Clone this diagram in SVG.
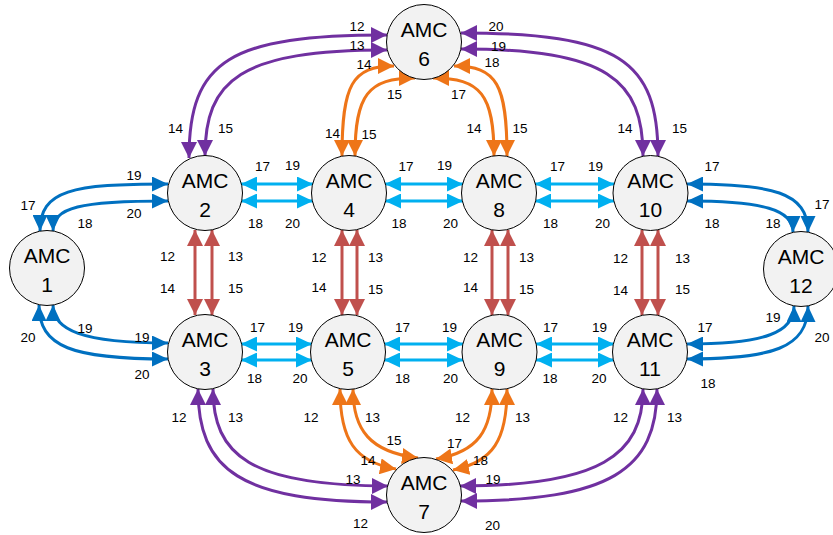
<svg xmlns="http://www.w3.org/2000/svg" width="833" height="535" viewBox="0 0 833 535">
<style>
.n circle{fill:#F2F2F2;stroke:#000;stroke-width:1}
.n text{font-family:"Liberation Sans",Arial,sans-serif;font-size:21px;text-anchor:middle;fill:#000}
.c path{fill:none;stroke-width:3}
.lb{stroke:#00B0F0;marker-start:url(#mLB);marker-end:url(#mLB)}
.db{stroke:#0070C0;marker-start:url(#mDB);marker-end:url(#mDB)}
.rd{stroke:#C0504D;marker-start:url(#mRD);marker-end:url(#mRD)}
.pu{stroke:#7030A0;marker-start:url(#mPU);marker-end:url(#mPU)}
.or{stroke:#EE7518;marker-start:url(#mOR);marker-end:url(#mOR)}
.lbl text{font-family:"Liberation Sans",Arial,sans-serif;font-size:13.5px;text-anchor:middle;fill:#000}
</style>
<defs>
<marker id="mLB" viewBox="0 0 16 15" refX="16" refY="7.5" markerWidth="16" markerHeight="15" markerUnits="userSpaceOnUse" orient="auto-start-reverse"><path d="M0,0 L16,7.5 L0,15 z" fill="#00B0F0"/></marker>
<marker id="mDB" viewBox="0 0 16 15" refX="16" refY="7.5" markerWidth="16" markerHeight="15" markerUnits="userSpaceOnUse" orient="auto-start-reverse"><path d="M0,0 L16,7.5 L0,15 z" fill="#0070C0"/></marker>
<marker id="mRD" viewBox="0 0 16 16" refX="16" refY="8" markerWidth="16" markerHeight="16" markerUnits="userSpaceOnUse" orient="auto-start-reverse"><path d="M0,0 L16,8 L0,16 z" fill="#C0504D"/></marker>
<marker id="mPU" viewBox="0 0 16 16" refX="16" refY="8" markerWidth="16" markerHeight="16" markerUnits="userSpaceOnUse" orient="auto-start-reverse"><path d="M0,0 L16,8 L0,16 z" fill="#7030A0"/></marker>
<marker id="mOR" viewBox="0 0 16 16" refX="16" refY="8" markerWidth="16" markerHeight="16" markerUnits="userSpaceOnUse" orient="auto-start-reverse"><path d="M0,0 L16,8 L0,16 z" fill="#EE7518"/></marker>
</defs>

<g id="connectors" class="c">
<!-- light blue horizontal -->
<path class="lb" d="M241,184 L313,184"/>
<path class="lb" d="M241,201 L313,201"/>
<path class="lb" d="M385,184 L463,184"/>
<path class="lb" d="M385,201 L463,201"/>
<path class="lb" d="M535,184 L614,184"/>
<path class="lb" d="M535,201 L614,201"/>
<path class="lb" d="M241,344 L312,344"/>
<path class="lb" d="M241,360 L312,360"/>
<path class="lb" d="M384,344 L463,344"/>
<path class="lb" d="M384,360 L463,360"/>
<path class="lb" d="M536,344 L614,344"/>
<path class="lb" d="M536,360 L614,360"/>
<!-- red vertical -->
<path class="rd" d="M195,230 L195,315"/>
<path class="rd" d="M212,230 L212,315"/>
<path class="rd" d="M342,230 L342,315"/>
<path class="rd" d="M357,230 L357,315"/>
<path class="rd" d="M492,230 L492,315"/>
<path class="rd" d="M508,230 L508,315"/>
<path class="rd" d="M642,230 L642,315"/>
<path class="rd" d="M658,230 L658,315"/>
<!-- dark blue curves -->
<path class="db" d="M40,231 C40,190 72,184 168,184"/>
<path class="db" d="M53,231 C53,207 80,201 168,201"/>
<path class="db" d="M39,305 C39,347 72,359 168,359"/>
<path class="db" d="M53,305 C53,330 82,343 168,343"/>
<path class="db" d="M687,184 C772,184 808,192 808,232"/>
<path class="db" d="M687,201 C764,201 793,210 793,232"/>
<path class="db" d="M687,344 C766,344 794,332 794,306"/>
<path class="db" d="M687,359 C772,359 808,348 808,306"/>
<!-- purple curves -->
<path class="pu" d="M189,158 C189,60 230,35 387,35"/>
<path class="pu" d="M205,156 C205,80 240,50 387,50"/>
<path class="pu" d="M461,33 C619,33 658,60 658,156"/>
<path class="pu" d="M461,49 C608,49 643,80 643,156"/>
<path class="pu" d="M198,389 C198,470 240,502 387,502"/>
<path class="pu" d="M213,389 C213,455 250,486 388,486"/>
<path class="pu" d="M643,389 C643,455 600,486 460,486"/>
<path class="pu" d="M657,389 C657,470 610,501 461,501"/>
<!-- orange curves -->
<path class="or" d="M342,156 C342,85 352,66 394,66"/>
<path class="or" d="M355,156 C355,95 368,78 415,78"/>
<path class="or" d="M507,156 C507,85 497,66 454,66"/>
<path class="or" d="M494,156 C494,95 481,78 433,78"/>
<path class="or" d="M340,389 C340,440 355,462 396,469"/>
<path class="or" d="M353,389 C353,430 370,452 418,458"/>
<path class="or" d="M492,389 C492,430 478,452 436,459"/>
<path class="or" d="M507,389 C507,440 493,462 453,470"/>
</g>

<g id="nodes" class="n">
<g id="amc1"><circle cx="47" cy="268" r="37.5"/><text x="47" y="262.5">AMC</text><text x="47" y="291.5">1</text></g>
<g id="amc2"><circle cx="205" cy="193" r="37.5"/><text x="205" y="187.5">AMC</text><text x="205" y="216.5">2</text></g>
<g id="amc3"><circle cx="205" cy="352" r="37.5"/><text x="205" y="346.5">AMC</text><text x="205" y="375.5">3</text></g>
<g id="amc4"><circle cx="349" cy="193" r="37.5"/><text x="349" y="187.5">AMC</text><text x="349" y="216.5">4</text></g>
<g id="amc5"><circle cx="348" cy="352" r="37.5"/><text x="348" y="346.5">AMC</text><text x="348" y="375.5">5</text></g>
<g id="amc6"><circle cx="424" cy="42" r="37.5"/><text x="424" y="36.5">AMC</text><text x="424" y="65.5">6</text></g>
<g id="amc7"><circle cx="424" cy="495" r="37.5"/><text x="424" y="489.5">AMC</text><text x="424" y="518.5">7</text></g>
<g id="amc8"><circle cx="499" cy="193" r="37.5"/><text x="499" y="187.5">AMC</text><text x="499" y="216.5">8</text></g>
<g id="amc9"><circle cx="499.5" cy="352" r="37.5"/><text x="499.5" y="346.5">AMC</text><text x="499.5" y="375.5">9</text></g>
<g id="amc10"><circle cx="650.5" cy="193" r="37.5"/><text x="650.5" y="187.5">AMC</text><text x="650.5" y="216.5">10</text></g>
<g id="amc11"><circle cx="650" cy="352" r="37.5"/><text x="650" y="346.5">AMC</text><text x="650" y="375.5">11</text></g>
<g id="amc12"><circle cx="801" cy="269" r="37.5"/><text x="801" y="263.5">AMC</text><text x="801" y="292.5">12</text></g>
</g>

<g id="labels" class="lbl">
<!-- dark blue -->
<text x="28" y="210">17</text><text x="134" y="180">19</text><text x="134" y="218">20</text><text x="85" y="228">18</text>
<text x="28" y="342">20</text><text x="85" y="333">19</text><text x="142" y="342">19</text><text x="142" y="379">20</text>
<text x="712" y="171">17</text><text x="822" y="209">17</text><text x="712" y="228">18</text><text x="773" y="228">18</text>
<text x="705" y="332">17</text><text x="773" y="322">19</text><text x="822" y="342">20</text><text x="708" y="388">18</text>
<!-- light blue -->
<text x="262.5" y="171">17</text><text x="292.5" y="170">19</text><text x="255.5" y="228">18</text><text x="292.5" y="228">20</text>
<text x="406" y="171">17</text><text x="444.5" y="170">19</text><text x="399" y="228">18</text><text x="450.5" y="228">20</text>
<text x="557.5" y="171">17</text><text x="595.5" y="171">19</text><text x="550.5" y="228">18</text><text x="602.5" y="228">20</text>
<text x="257.5" y="332">17</text><text x="295.5" y="332">19</text><text x="254.5" y="383">18</text><text x="300" y="383">20</text>
<text x="402.5" y="332">17</text><text x="449.5" y="332">19</text><text x="402.5" y="383">18</text><text x="450.5" y="383">20</text>
<text x="550.5" y="332">17</text><text x="599.5" y="332">19</text><text x="550" y="383">18</text><text x="599" y="383">20</text>
<!-- red -->
<text x="167.5" y="261">12</text><text x="235.5" y="261">13</text><text x="167.5" y="293">14</text><text x="235.5" y="293">15</text>
<text x="319" y="262">12</text><text x="375.5" y="262">13</text><text x="319" y="292">14</text><text x="375.5" y="294">15</text>
<text x="470.5" y="262">12</text><text x="526.5" y="262">13</text><text x="470.5" y="292">14</text><text x="526.5" y="294">15</text>
<text x="620.5" y="263">12</text><text x="682.5" y="263">13</text><text x="620.5" y="295">14</text><text x="682.5" y="294">15</text>
<!-- purple -->
<text x="357" y="31">12</text><text x="357" y="50">13</text><text x="175.5" y="133">14</text><text x="225.5" y="133">15</text>
<text x="496" y="31">20</text><text x="498.5" y="51">19</text><text x="625" y="133">14</text><text x="679.5" y="133">15</text>
<text x="179" y="422">12</text><text x="235.5" y="422">13</text><text x="353" y="484">13</text><text x="360.5" y="528">12</text>
<text x="620.5" y="422">12</text><text x="674.5" y="422">13</text><text x="493" y="484">19</text><text x="492.5" y="530">20</text>
<!-- orange -->
<text x="364" y="69">14</text><text x="394.5" y="99">15</text><text x="332.5" y="138">14</text><text x="369" y="139">15</text>
<text x="492" y="67">18</text><text x="458.5" y="99">17</text><text x="474" y="133">14</text><text x="520" y="133">15</text>
<text x="311" y="422">12</text><text x="372.5" y="422">13</text><text x="394" y="445">15</text><text x="368" y="465">14</text>
<text x="462.5" y="422">12</text><text x="522.5" y="422">13</text><text x="454.5" y="448">17</text><text x="480.5" y="465">18</text>
</g>
</svg>
